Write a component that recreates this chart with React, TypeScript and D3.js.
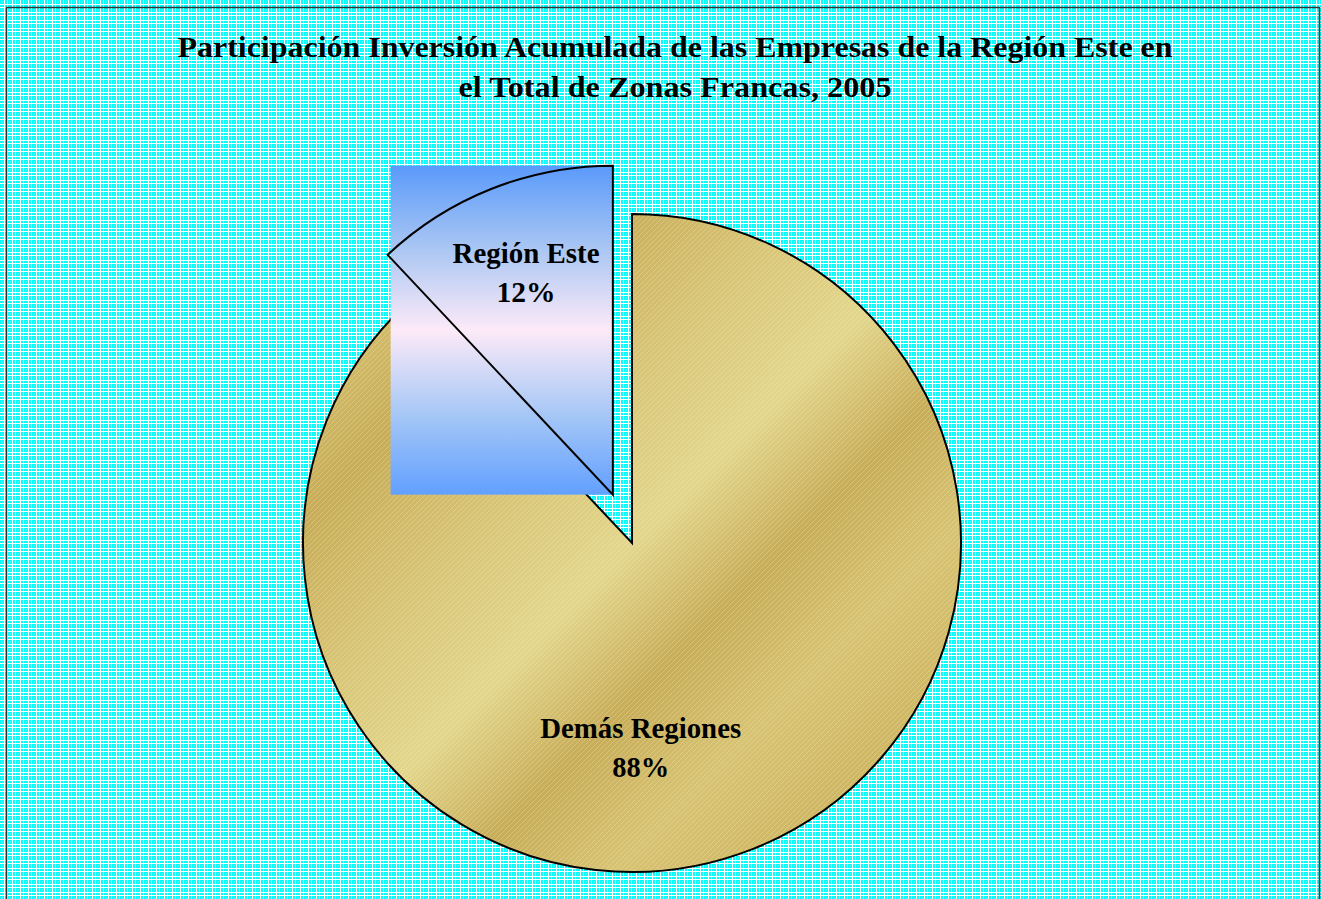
import { useEffect, useRef } from 'react'
import * as d3 from 'd3'

// chart data
const categories = ['Demás Regiones', 'Región Este']
const shares = [88, 12]
const percentLabels = ['88%', '12%']
const explodedCategories = ['Región Este']
const titleLines = [
  'Participación Inversión Acumulada de las Empresas de la Región Este en',
  'el Total de Zonas Francas, 2005'
]

const FONT = '"Liberation Serif", "Times New Roman", serif'

export default function App() {
  const svgRef = useRef<SVGSVGElement>(null)

  useEffect(() => {
    const svg = d3.select(svgRef.current)
    svg.selectAll('*').remove()

    const cx = 632
    const cy = 543
    const radius = 329
    const explodeDist = 52

    const defs = svg.append('defs')

    // cyan / white tartan background
    const bg = defs.append('pattern')
      .attr('id', 'bgPattern')
      .attr('patternUnits', 'userSpaceOnUse')
      .attr('width', 8).attr('height', 8)
    bg.append('rect').attr('width', 8).attr('height', 8).attr('fill', '#ffffff')
    const cells = [[0, 0, 4, 4], [5, 0, 2, 4], [0, 5, 4, 2], [5, 5, 2, 2]]
    bg.selectAll('rect.cell')
      .data(cells)
      .join('rect')
      .attr('class', 'cell')
      .attr('x', c => c[0]).attr('y', c => c[1])
      .attr('width', c => c[2]).attr('height', c => c[3])
      .attr('fill', '#00ffff')
    bg.append('rect').attr('x', 1.5).attr('y', 1.5).attr('width', 1).attr('height', 1).attr('fill', '#bfffff')

    // gold gradient bands running diagonally (relative to pie centre)
    const d = radius * Math.SQRT2 / 2
    const gold = defs.append('linearGradient')
      .attr('id', 'goldGrad')
      .attr('gradientUnits', 'userSpaceOnUse')
      .attr('x1', -d).attr('y1', -d)
      .attr('x2', d).attr('y2', d)
    const goldStops: [number, string][] = [
      [0, '#d2ba68'], [0.12, '#c8ac57'], [0.31, '#d8c475'], [0.5, '#e3d68b'],
      [0.67, '#c8ac58'], [0.83, '#d8c372'], [1, '#cfb663']
    ]
    gold.selectAll('stop')
      .data(goldStops)
      .join('stop')
      .attr('offset', s => s[0])
      .attr('stop-color', s => s[1])

    // fine diagonal texture
    const tex = defs.append('pattern')
      .attr('id', 'goldTex')
      .attr('patternUnits', 'userSpaceOnUse')
      .attr('width', 5).attr('height', 5)
    tex.append('path')
      .attr('d', 'M-1,6 L6,-1 M-1,1 L1,-1 M4,6 L6,4')
      .attr('stroke', '#f4fff0')
      .attr('stroke-opacity', 0.35)
      .attr('stroke-width', 0.7)

    // blue gradient for the exploded slice
    const blue = defs.append('linearGradient')
      .attr('id', 'blueGrad')
      .attr('x1', 0).attr('y1', 0).attr('x2', 0).attr('y2', 1)
    const blueStops: [number, string][] = [
      [0, '#5a9afa'], [0.25, '#a9c6f3'], [0.5, '#fdeaf8'], [0.75, '#a8c8f6'], [1, '#62a0ff']
    ]
    blue.selectAll('stop')
      .data(blueStops)
      .join('stop')
      .attr('offset', s => s[0])
      .attr('stop-color', s => s[1])

    // background + frame
    svg.append('rect')
      .attr('x', 0).attr('y', 0).attr('width', 1321).attr('height', 899)
      .attr('fill', 'url(#bgPattern)')
    svg.append('rect')
      .attr('x', 6.5).attr('y', 7.5).attr('width', 1313).attr('height', 900)
      .attr('fill', 'none').attr('stroke', '#333333').attr('stroke-width', 1.5)

    // title
    const titleWidths = [995, 433]
    svg.append('g')
      .selectAll('text')
      .data(titleLines)
      .join('text')
      .attr('x', 675)
      .attr('y', (_, i) => 57 + i * 40)
      .attr('text-anchor', 'middle')
      .attr('font-family', FONT)
      .attr('font-weight', 'bold')
      .attr('font-size', 30)
      .attr('textLength', (_, i) => titleWidths[i])
      .attr('lengthAdjust', 'spacingAndGlyphs')
      .attr('fill', '#000')
      .text(t => t)

    const pie = d3.pie<number>().sort(null).value(v => v)
    const arcs = pie(shares)
    const arcGen = d3.arc<d3.PieArcDatum<number>>().innerRadius(0).outerRadius(radius)

    const offsetOf = (a: d3.PieArcDatum<number>) => {
      if (!explodedCategories.includes(categories[a.index])) return [0, 0]
      const mid = (a.startAngle + a.endAngle) / 2
      return [Math.sin(mid) * explodeDist, -Math.cos(mid) * explodeDist]
    }

    arcs.forEach(a => {
      const [ox, oy] = offsetOf(a)
      const g = svg.append('g').attr('transform', `translate(${cx + ox},${cy + oy})`)
      if (explodedCategories.includes(categories[a.index])) {
        // the gradient fills the whole bounding box of the slice
        const path = g.append('path').attr('d', arcGen(a)).attr('fill', 'none')
        const bb = (path.node() as SVGPathElement).getBBox()
        path.remove()
        g.append('rect')
          .attr('x', bb.x + 3).attr('y', bb.y)
          .attr('width', bb.width - 3).attr('height', bb.height)
          .attr('fill', 'url(#blueGrad)')
        g.append('path')
          .attr('d', arcGen(a))
          .attr('fill', 'none')
          .attr('stroke', '#000')
          .attr('stroke-width', 2)
      } else {
        g.append('path').attr('d', arcGen(a)).attr('fill', 'url(#goldGrad)')
        g.append('path').attr('d', arcGen(a)).attr('fill', 'url(#goldTex)')
        g.append('path')
          .attr('d', arcGen(a))
          .attr('fill', 'none')
          .attr('stroke', '#000')
          .attr('stroke-width', 2)
      }
    })

    // labels
    const labelRadius = [0.6, 0.75]
    const labelNudge = [[-64, 11], [4, -2]]
    const labelWidths = [[201, 57], [147, 59]]
    arcs.forEach(a => {
      const [ox, oy] = offsetOf(a)
      const r = radius * labelRadius[a.index]
      const lab = d3.arc<d3.PieArcDatum<number>>().innerRadius(r).outerRadius(r)
      const [lx, ly] = lab.centroid(a)
      const x = cx + ox + lx + labelNudge[a.index][0]
      const y = cy + oy + ly + labelNudge[a.index][1]
      svg.append('g')
        .selectAll('text')
        .data([categories[a.index], percentLabels[a.index]])
        .join('text')
        .attr('x', x)
        .attr('y', (_, i) => y + i * 39)
        .attr('text-anchor', 'middle')
        .attr('font-family', FONT)
        .attr('font-weight', 'bold')
        .attr('font-size', 29)
        .attr('textLength', (_, i) => labelWidths[a.index][i])
        .attr('lengthAdjust', 'spacingAndGlyphs')
        .attr('fill', '#000')
        .text(t => t)
    })
  }, [])

  return (
    <svg
      ref={svgRef}
      width={1321}
      height={899}
      style={{ position: 'absolute', left: 0, top: 0 }}
    />
  )
}
